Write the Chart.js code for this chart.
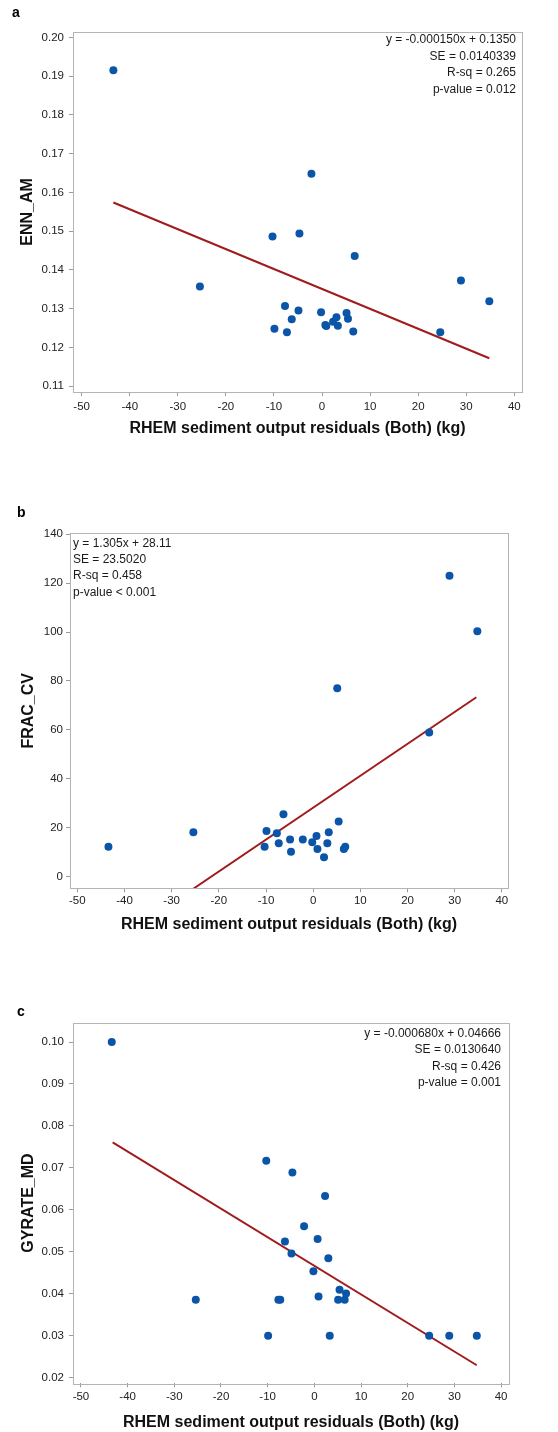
<!DOCTYPE html>
<html>
<head>
<meta charset="utf-8">
<script src="https://cdn.jsdelivr.net/npm/chart.js@4.4.0/dist/chart.umd.min.js"></script>
<style>
  body { margin: 0; background: #fff; width: 558px; height: 1432px; position: relative; overflow: hidden; }
  .panel { position: absolute; left: 0; width: 558px; }
</style>
</head>
<body>
<div class="panel" style="top:0;height:470px"><canvas id="chart-a"></canvas></div>
<div class="panel" style="top:470px;height:470px"><canvas id="chart-b"></canvas></div>
<div class="panel" style="top:940px;height:492px"><canvas id="chart-c"></canvas></div>
<script>
// RHEM sediment output residuals (kg), shared by all three panels
const residuals = [-43.4, -25.4, -10.3, -9.9, -7.7, -7.3, -6.3, -4.9, -4.7, -2.2, -0.2, 0.7, 0.9, 2.3, 3.0, 3.3, 5.1, 5.4, 6.5, 6.8, 24.6, 28.9, 34.8];

const ennAm = [0.1915, 0.1357, 0.1486, 0.1248, 0.1307, 0.1239, 0.1273, 0.1295, 0.1494, 0.1648, 0.1291, 0.1258, 0.1255, 0.1266, 0.1278, 0.1256, 0.1289, 0.1274, 0.1241, 0.1436, 0.1239, 0.1373, 0.1319];
const fracCv = [12.1, 18.0, 12.1, 18.6, 17.6, 13.5, 25.4, 15.1, 10.1, 15.1, 13.9, 16.5, 11.2, 7.8, 13.5, 18.0, 77.0, 22.4, 11.2, 12.1, 58.9, 123.0, 100.3];
const gyrateMd = [0.1000, 0.0386, 0.0717, 0.0300, 0.0386, 0.0386, 0.0525, 0.0496, 0.0689, 0.0561, 0.0454, 0.0531, 0.0394, 0.0633, 0.0485, 0.0300, 0.0386, 0.0410, 0.0386, 0.0401, 0.0300, 0.0300, 0.0300];

// fitted regression lines (end points)
const fitAx = [-43.4, 34.8];
const fitAy = [0.1574, 0.1172];
const fitBx = [-25.5, 34.6];
const fitBy = [-5.2, 73.3];
const fitCx = [-43.2, 34.8];
const fitCy = [0.0761, 0.0230];

const statsA = ['y = -0.000150x + 0.1350', 'SE = 0.0140339', 'R-sq = 0.265', 'p-value = 0.012'];
const statsB = ['y = 1.305x + 28.11', 'SE = 23.5020', 'R-sq = 0.458', 'p-value < 0.001'];
const statsC = ['y = -0.000680x + 0.04666', 'SE = 0.0130640', 'R-sq = 0.426', 'p-value = 0.001'];

const xTitle = 'RHEM sediment output residuals (Both) (kg)';
const FONT = '"Liberation Sans", Arial, sans-serif';

// draws the frame, panel letter and the regression stats
const panelDecor = {
  id: 'panelDecor',
  afterDraw(chart, args, opts) {
    const { ctx, chartArea: a } = chart;
    ctx.save();
    ctx.strokeStyle = '#b4b4b4';
    ctx.lineWidth = 1;
    ctx.strokeRect(Math.round(a.left) + 0.5, Math.round(a.top) + 0.5, Math.round(a.right - a.left), Math.round(a.bottom - a.top));

    ctx.fillStyle = '#000';
    ctx.font = 'bold 14px ' + FONT;
    ctx.textAlign = 'left';
    ctx.textBaseline = 'middle';
    ctx.fillText(opts.letter, opts.letterX, opts.letterY);

    ctx.font = '12px ' + FONT;
    ctx.fillStyle = '#1a1a1a';
    ctx.textAlign = opts.statsAlign;
    const sx = opts.statsAlign === 'right' ? a.right + opts.statsDx : a.left + opts.statsDx;
    opts.stats.forEach((t, i) => ctx.fillText(t, sx, a.top + opts.statsDy + i * 16.4));
    ctx.restore();
  }
};

function makePanel(id, yVals, fitX, fitY, p) {
  const pts = residuals.map((x, i) => ({ x: x, y: yVals[i] }));
  const line = fitX.map((x, i) => ({ x: x, y: fitY[i] }));
  const tickFont = { family: FONT, size: 11.5 };
  const titleFont = { family: FONT, size: 16, weight: 'bold', lineHeight: 1 };

  return new Chart(document.getElementById(id).getContext('2d'), {
    type: 'scatter',
    data: {
      datasets: [
        {
          data: pts,
          backgroundColor: '#0b55a8',
          borderWidth: 0,
          pointRadius: 4,
          order: 0
        },
        {
          data: line,
          showLine: true,
          borderColor: '#a01c1c',
          borderWidth: 2,
          pointRadius: 0,
          order: 1
        }
      ]
    },
    options: {
      responsive: true,
      maintainAspectRatio: false,
      animation: false,
      events: [],
      layout: {
        padding: { left: 0, top: p.top, right: 558 - p.right, bottom: p.h - (p.xTitleY + 8) }
      },
      plugins: {
        legend: { display: false },
        tooltip: { enabled: false },
        panelDecor: {
          letter: p.letter, letterX: p.letterX, letterY: p.letterY,
          stats: p.stats, statsAlign: p.statsAlign, statsDx: p.statsDx, statsDy: p.statsDy
        }
      },
      scales: {
        x: {
          type: 'linear',
          min: p.xMin,
          max: p.xMax,
          border: { display: false },
          grid: { drawOnChartArea: false, drawTicks: true, tickLength: 4, color: '#9a9a9a' },
          ticks: {
            stepSize: 10, includeBounds: false, autoSkip: false, maxRotation: 0,
            color: '#222', font: tickFont, padding: p.xPad
          },
          title: { display: true, text: xTitle, color: '#111', font: titleFont, padding: { top: 0, bottom: 0 } },
          afterFit(scale) { scale.height = p.xTitleY + 8 - p.bottom; }
        },
        y: {
          min: p.yMin,
          max: p.yMax,
          border: { display: false },
          grid: { drawOnChartArea: false, drawTicks: true, tickLength: 4, color: '#9a9a9a' },
          ticks: {
            stepSize: p.yStep, includeBounds: false, autoSkip: false,
            color: '#222', font: tickFont, padding: p.yPad,
            callback: (v) => Number(v).toFixed(p.yDec)
          },
          title: { display: true, text: p.yTitle, color: '#111', font: titleFont, padding: { top: p.yTitleX - 8, bottom: 0 } },
          afterFit(scale) { scale.width = p.left; }
        }
      }
    },
    plugins: [panelDecor]
  });
}

document.addEventListener('DOMContentLoaded', function() {
  makePanel('chart-a', ennAm, fitAx, fitAy, {
    h: 470, top: 32, bottom: 392, left: 73, right: 522, xTitleY: 429, yTitleX: 28,
    xMin: -51.8, xMax: 41.6, yMin: 0.1085, yMax: 0.2014, yStep: 0.01, yDec: 2,
    xPad: 4, yPad: 5, yTitle: 'ENN_AM',
    letter: 'a', letterX: 12, letterY: 13,
    stats: statsA, statsAlign: 'right', statsDx: -6, statsDy: 8
  });

  makePanel('chart-b', fracCv, fitBx, fitBy, {
    h: 470, top: 63.3, bottom: 418.3, left: 70, right: 508, xTitleY: 455, yTitleX: 29,
    xMin: -51.55, xMax: 41.3, yMin: -4.9, yMax: 140.4, yStep: 20, yDec: 0,
    xPad: 2, yPad: 3, yTitle: 'FRAC_CV',
    letter: 'b', letterX: 17, letterY: 43,
    stats: statsB, statsAlign: 'left', statsDx: 3, statsDy: 10
  });

  makePanel('chart-c', gyrateMd, fitCx, fitCy, {
    h: 492, top: 82.7, bottom: 443.3, left: 73, right: 509, xTitleY: 483, yTitleX: 29,
    xMin: -51.7, xMax: 41.7, yMin: 0.0187, yMax: 0.1046, yStep: 0.01, yDec: 2,
    xPad: 3, yPad: 5, yTitle: 'GYRATE_MD',
    letter: 'c', letterX: 17, letterY: 72,
    stats: statsC, statsAlign: 'right', statsDx: -8, statsDy: 11
  });
});
</script>
</body>
</html>
